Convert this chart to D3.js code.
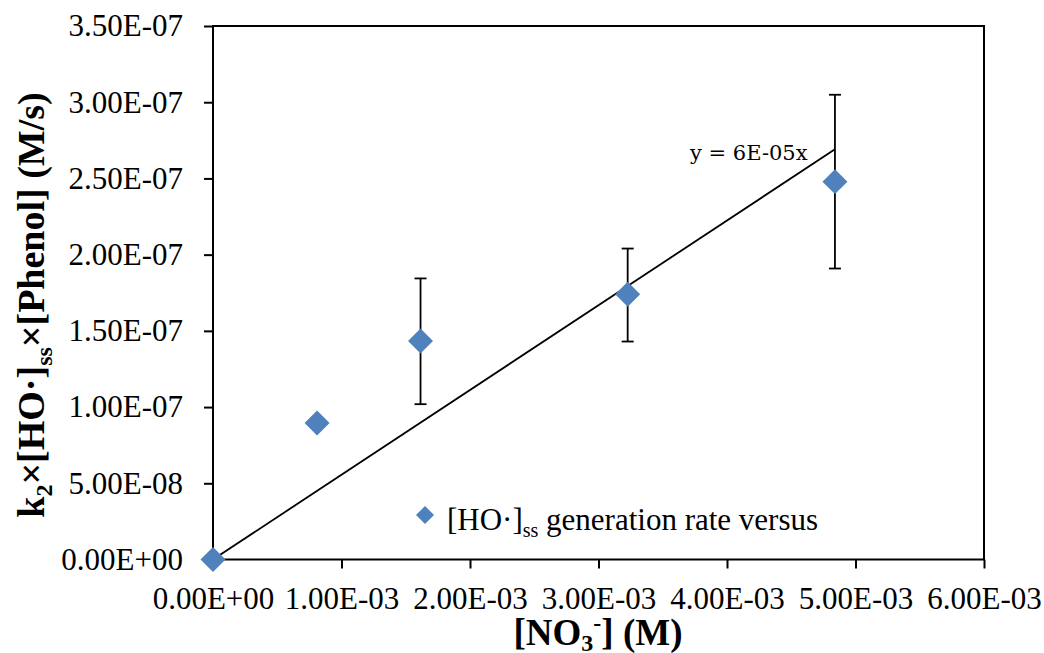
<!DOCTYPE html>
<meta charset="utf-8">
<head>
  <title>HO generation rate vs nitrate</title>
</head>
<style>
    body { margin: 0; background: #fff; }
    svg text { font-family: "Liberation Serif", "Times New Roman", serif; fill: #000; }
    .axis path, .axis line { stroke: #000; stroke-width: 2px; }
    .axis text { font-size: 31px; }
</style>
<body>
<svg id="chart" width="1044" height="653"></svg>
<script src="https://cdn.jsdelivr.net/npm/d3@7"></script>
<script>
    // data
    var nitrate = [0, 0.00081, 0.001615, 0.003227, 0.00484];
    var rate    = [0, 8.96e-8, 1.434e-7, 1.740e-7, 2.479e-7];
    var errUp   = [null, null, 4.1e-8, 3.0e-8, 5.7e-8];
    var errDown = [null, null, 4.15e-8, 3.1e-8, 5.7e-8];
    var slope = 5.56e-5;
    var xTicks = [0, 0.001, 0.002, 0.003, 0.004, 0.005, 0.006];
    var yTicks = [0, 5e-8, 1e-7, 1.5e-7, 2e-7, 2.5e-7, 3e-7, 3.5e-7];

    var plotLeft = 213, plotRight = 984, plotTop = 26, plotBottom = 559.5;
    var blue = "#4F81BD";

    var svg = d3.select("#chart");

    var x = d3.scaleLinear().domain([0, 0.006]).range([plotLeft, plotRight]);
    var y = d3.scaleLinear().domain([0, 3.5e-7]).range([plotBottom, plotTop]);

    function sci(v) {
        var s = v.toExponential(2).toUpperCase();
        // 3.50E-7 -> 3.50E-07
        return s.replace(/E([+-])(\d)$/, "E$10$2");
    }

    // plot box
    svg.append("rect")
        .attr("x", plotLeft).attr("y", plotTop)
        .attr("width", plotRight - plotLeft).attr("height", plotBottom - plotTop)
        .attr("fill", "none").attr("stroke", "#000").attr("stroke-width", 2);

    var xAxis = svg.append("g")
        .attr("class", "axis")
        .attr("transform", "translate(0," + plotBottom + ")")
        .call(d3.axisBottom(x).tickValues(xTicks).tickSize(9).tickPadding(18).tickFormat(sci));
    xAxis.select(".domain").remove();
    xAxis.selectAll("text").attr("dy", "0.71em");

    var yAxis = svg.append("g")
        .attr("class", "axis")
        .attr("transform", "translate(" + plotLeft + ",0)")
        .call(d3.axisLeft(y).tickValues(yTicks).tickSize(9).tickPadding(21).tickFormat(sci));
    yAxis.select(".domain").remove();

    // trendline through origin
    var xEnd = d3.max(nitrate);
    svg.append("line")
        .attr("x1", x(0)).attr("y1", y(0))
        .attr("x2", x(xEnd)).attr("y2", y(slope * xEnd))
        .attr("stroke", "#000").attr("stroke-width", 1.8);

    // error bars
    var pts = nitrate.map(function(v, i) {
        return { x: v, y: rate[i], up: errUp[i], down: errDown[i] };
    });
    var eb = svg.append("g").selectAll("g")
        .data(pts.filter(function(d) { return d.up != null; }))
        .enter().append("g")
        .attr("stroke", "#000").attr("stroke-width", 1.8);
    eb.append("line")
        .attr("x1", function(d) { return x(d.x); }).attr("x2", function(d) { return x(d.x); })
        .attr("y1", function(d) { return y(d.y + d.up); })
        .attr("y2", function(d) { return y(d.y - d.down); });
    eb.append("line")
        .attr("x1", function(d) { return x(d.x) - 6; }).attr("x2", function(d) { return x(d.x) + 6; })
        .attr("y1", function(d) { return y(d.y + d.up); }).attr("y2", function(d) { return y(d.y + d.up); });
    eb.append("line")
        .attr("x1", function(d) { return x(d.x) - 6; }).attr("x2", function(d) { return x(d.x) + 6; })
        .attr("y1", function(d) { return y(d.y - d.down); }).attr("y2", function(d) { return y(d.y - d.down); });

    // diamond markers
    var diamond = d3.symbol().type(d3.symbolSquare).size(312);
    svg.append("g").selectAll("path")
        .data(pts)
        .enter().append("path")
        .attr("d", diamond)
        .attr("fill", blue)
        .attr("transform", function(d) { return "translate(" + x(d.x) + "," + y(d.y) + ") rotate(45)"; });

    // equation label
    svg.append("text")
        .attr("x", 690).attr("y", 160)
        .style("font-family", "'DejaVu Serif', serif")
        .style("font-size", "21px")
        .text("y = 6E-05x");

    // legend
    svg.append("path")
        .attr("d", d3.symbol().type(d3.symbolSquare).size(162))
        .attr("fill", blue)
        .attr("transform", "translate(425,515) rotate(45)");
    var leg = svg.append("text").attr("x", 447).attr("y", 530).style("font-size", "31px");
    leg.append("tspan").text("[HO·]");
    leg.append("tspan").attr("dy", 7).style("font-size", "20px").text("ss");
    leg.append("tspan").attr("dy", -7).text(" generation rate versus");

    // x title
    var xt = svg.append("text")
        .attr("x", 598).attr("y", 645)
        .attr("text-anchor", "middle")
        .style("font-size", "37px").style("font-weight", "bold");
    xt.append("tspan").text("[NO");
    xt.append("tspan").attr("dy", 6).style("font-size", "24px").text("3");
    xt.append("tspan").attr("dy", -20).style("font-size", "24px").text("-");
    xt.append("tspan").attr("dy", 14).text("] (M)");

    // y title
    var yt = svg.append("text")
        .attr("transform", "translate(44,305) rotate(-90)")
        .attr("text-anchor", "middle")
        .style("font-size", "38px").style("font-weight", "bold");
    yt.append("tspan").text("k");
    yt.append("tspan").attr("dy", 8).style("font-size", "24px").text("2");
    yt.append("tspan").attr("dy", -8).text("×[HO·]");
    yt.append("tspan").attr("dy", 8).style("font-size", "24px").text("ss");
    yt.append("tspan").attr("dy", -8).text("×[Phenol] (M/s)");
</script>
</body>
